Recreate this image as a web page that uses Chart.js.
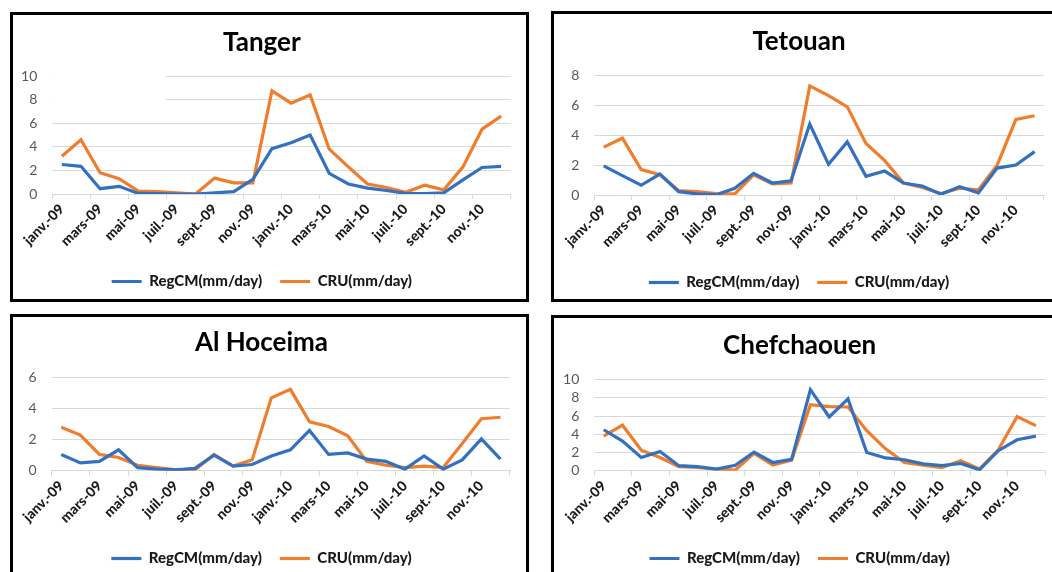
<!DOCTYPE html>
<html lang="fr">
<head>
<meta charset="utf-8">
<title>RegCM / CRU - précipitations mensuelles</title>
<script src="https://cdn.jsdelivr.net/npm/chart.js@4.4.1/dist/chart.umd.min.js"></script>
<style>
  html, body { margin: 0; padding: 0; background: #fff; overflow: hidden; }
  body { width: 1052px; height: 572px; position: relative; }
  .cadre { position: absolute; border: 3px solid #000; box-sizing: border-box; overflow: hidden; background: #fff; }
  .cadre canvas { position: absolute; left: 0; top: 0; }
</style>
</head>
<body>
<div class="cadre" style="left:10px;top:12px;width:519px;height:290px"><canvas id="tanger" width="513" height="284"></canvas></div>
<div class="cadre" style="left:551px;top:11px;width:520px;height:291px"><canvas id="tetouan" width="508" height="286"></canvas></div>
<div class="cadre" style="left:10px;top:314px;width:519px;height:270px"><canvas id="alhoceima" width="513" height="259"></canvas></div>
<div class="cadre" style="left:551px;top:315px;width:520px;height:270px"><canvas id="chefchaouen" width="508" height="258"></canvas></div>
<script>
// Mois (janv. 2009 -> déc. 2010)
const mois = ['janv.-09', 'févr.-09', 'mars-09', 'avr.-09', 'mai-09', 'juin-09', 'juil.-09', 'août-09',
  'sept.-09', 'oct.-09', 'nov.-09', 'déc.-09', 'janv.-10', 'févr.-10', 'mars-10', 'avr.-10',
  'mai-10', 'juin-10', 'juil.-10', 'août-10', 'sept.-10', 'oct.-10', 'nov.-10', 'déc.-10'];

const series = ['RegCM(mm/day)', 'CRU(mm/day)'];

// Tanger
const tangerRegCM = [2.5, 2.35, 0.45, 0.65, 0.05, 0.03, 0, 0, 0.1, 0.2, 1.25, 3.85, 4.35, 5.0, 1.75, 0.85, 0.5, 0.3, 0.05, 0.03, 0.1, 1.2, 2.25, 2.35];
const tangerCRU = [3.2, 4.6, 1.8, 1.3, 0.25, 0.2, 0.1, 0, 1.35, 0.95, 0.95, 8.75, 7.7, 8.4, 3.8, 2.3, 0.85, 0.55, 0.15, 0.75, 0.35, 2.3, 5.5, 6.6];
const tangerTicks = [0, 2, 4, 6, 8, 10];

// Tetouan
const tetouanRegCM = [1.95, 1.3, 0.65, 1.4, 0.22, 0.07, 0.02, 0.45, 1.45, 0.8, 0.95, 4.75, 2.05, 3.55, 1.25, 1.6, 0.8, 0.6, 0.05, 0.55, 0.15, 1.8, 2.0, 2.9];
const tetouanCRU = [3.2, 3.8, 1.7, 1.35, 0.3, 0.22, 0.1, 0.07, 1.35, 0.75, 0.8, 7.3, 6.65, 5.9, 3.45, 2.3, 0.8, 0.5, 0.1, 0.45, 0.35, 2.0, 5.05, 5.3];
const tetouanTicks = [0, 2, 4, 6, 8];

// Al Hoceima
const alhoceimaRegCM = [1.05, 0.5, 0.6, 1.35, 0.2, 0.1, 0.05, 0.15, 1.0, 0.3, 0.4, 0.95, 1.35, 2.6, 1.05, 1.15, 0.75, 0.6, 0.1, 0.95, 0.1, 0.7, 2.05, 0.75];
const alhoceimaCRU = [2.8, 2.3, 1.05, 0.85, 0.35, 0.2, 0.05, 0.05, 1.05, 0.3, 0.7, 4.7, 5.25, 3.15, 2.85, 2.25, 0.6, 0.35, 0.2, 0.3, 0.2, 1.75, 3.35, 3.45];
const alhoceimaTicks = [0, 2, 4, 6];

// Chefchaouen
const chefchaouenRegCM = [4.5, 3.25, 1.45, 2.1, 0.55, 0.45, 0.18, 0.6, 2.05, 0.9, 1.25, 8.9, 5.9, 7.9, 2.0, 1.4, 1.2, 0.75, 0.55, 0.8, 0.1, 2.2, 3.4, 3.8];
const chefchaouenCRU = [3.8, 5.0, 2.25, 1.45, 0.45, 0.35, 0.18, 0.07, 1.9, 0.62, 1.15, 7.25, 7.05, 7.0, 4.4, 2.4, 0.9, 0.6, 0.35, 1.1, 0.2, 2.3, 5.95, 4.95];
const chefchaouenTicks = [0, 2, 4, 6, 8, 10];

const BLEU = '#3470c0';
const ORANGE = '#f07d2c';
const GRILLE = '#d9d9d9';

Chart.defaults.font.family = 'Lato, "Open Sans", sans-serif';

// bout de grille effacé en haut à gauche (Tanger)
const masqueTanger = {
  id: 'masqueTanger',
  beforeDatasetsDraw(chart) {
    const x = chart.scales.x, y = chart.scales.y;
    const ctx = chart.ctx;
    ctx.save();
    ctx.fillStyle = '#fff';
    ctx.fillRect(chart.chartArea.left, y.getPixelForValue(10) - 2, x.getPixelForValue(5.44) - chart.chartArea.left, y.getPixelForValue(7) - y.getPixelForValue(10) + 2);
    ctx.restore();
  }
};

function creerGraphique(id, titre, regcm, cru, graduations, mise, extras) {
  new Chart(document.getElementById(id), {
    type: 'line',
    data: {
      labels: mois,
      datasets: [
        { label: series[0], data: regcm, borderColor: BLEU, backgroundColor: BLEU, borderWidth: 3.2, pointRadius: 0, tension: 0 },
        { label: series[1], data: cru, borderColor: ORANGE, backgroundColor: ORANGE, borderWidth: 3.2, pointRadius: 0, tension: 0 }
      ]
    },
    options: {
      responsive: false,
      animation: false,
      layout: { padding: { left: 0, right: mise.droite, top: 0, bottom: 0 } },
      plugins: {
        title: {
          display: true,
          text: titre,
          color: '#000',
          font: { size: 26, weight: 'bold' },
          padding: { top: mise.titreHaut, bottom: mise.titreBas }
        },
        legend: {
          position: 'bottom',
          labels: {
            usePointStyle: true,
            pointStyle: 'line',
            pointStyleWidth: 30,
            padding: 18,
            color: '#1a1a1a',
            font: { size: 15, weight: '900' }
          }
        },
        tooltip: { enabled: false }
      },
      scales: {
        x: {
          offset: true,
          afterFit: (s) => { s.height = mise.hauteurX; },
          grid: {
            offset: true,
            drawOnChartArea: false,
            tickLength: 5,
            color: (c) => (c.index === undefined || c.index % 2 === 0) ? GRILLE : 'rgba(0,0,0,0)'
          },
          border: { color: GRILLE },
          ticks: {
            autoSkip: false,
            minRotation: 45,
            maxRotation: 45,
            padding: 2,
            color: '#1a1a1a',
            font: { size: 14, weight: '900' },
            callback: function (value, index) {
              return index % 2 === 0 ? this.getLabelForValue(value) : '';
            }
          }
        },
        y: {
          min: graduations[0],
          max: graduations[graduations.length - 1],
          afterFit: (s) => { s.width = mise.gauche; },
          grid: { color: GRILLE, drawTicks: false },
          border: { display: false },
          ticks: {
            autoSkip: false,
            stepSize: graduations[1] - graduations[0],
            padding: 15,
            color: '#595959',
            font: { size: 14 }
          }
        }
      }
    },
    plugins: extras || []
  });
}

function dessiner() {
  creerGraphique('tanger', 'Tanger', tangerRegCM, tangerCRU, tangerTicks,
    { gauche: 39.3, droite: 15.3, titreHaut: 12.5, titreBas: 17.4, hauteurX: 62 }, [masqueTanger]);
  creerGraphique('tetouan', 'Tetouan', tetouanRegCM, tetouanCRU, tetouanTicks,
    { gauche: 40.3, droite: 18, titreHaut: 11.8, titreBas: 18.4, hauteurX: 62 });
  creerGraphique('alhoceima', 'Al Hoceima', alhoceimaRegCM, alhoceimaCRU, alhoceimaTicks,
    { gauche: 38.7, droite: 16, titreHaut: 10, titreBas: 19.5, hauteurX: 62.3 });
  creerGraphique('chefchaouen', 'Chefchaouen', chefchaouenRegCM, chefchaouenCRU, chefchaouenTicks,
    { gauche: 40.3, droite: 16.7, titreHaut: 12.4, titreBas: 18.1, hauteurX: 62.3 });
}

Promise.all([
  document.fonts.load('bold 26px Lato'),
  document.fonts.load('900 14px Lato'),
  document.fonts.load('14px Lato')
]).then(dessiner, dessiner);
</script>
</body>
</html>
